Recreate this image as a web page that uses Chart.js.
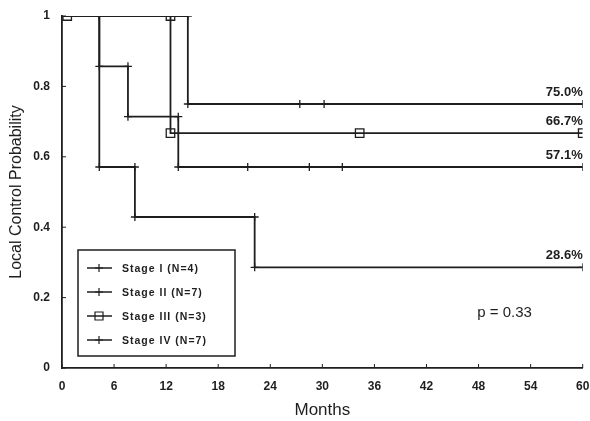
<!DOCTYPE html>
<html>
<head>
<meta charset="utf-8">
<script src="https://cdn.jsdelivr.net/npm/chart.js@4.4.1/dist/chart.umd.min.js"></script>
<style>
  html, body { margin: 0; padding: 0; background: #fff; }
  #box { width: 590px; height: 421px; }
</style>
</head>
<body>
<div id="box"><canvas id="grafico"></canvas></div>
<script>
// Kaplan-Meier curves, corners of each step given explicitly
const stage1X = [0, 14.5, 14.5, 27.4, 30.2, 60];
const stage1Y = [1, 1, 0.75, 0.75, 0.75, 0.75];
const stage2X = [0, 4.3, 4.3, 7.6, 7.6, 13.4, 13.4, 21.4, 28.5, 32.3, 60];
const stage2Y = [1, 1, 0.857, 0.857, 0.714, 0.714, 0.571, 0.571, 0.571, 0.571, 0.571];
const stage3X = [0, 0.6, 12.5, 12.5, 34.3, 60];
const stage3Y = [1, 1, 1, 0.667, 0.667, 0.667];
const stage4X = [0, 4.3, 4.3, 8.4, 8.4, 22.2, 22.2, 60];
const stage4Y = [1, 1, 0.571, 0.571, 0.429, 0.429, 0.286, 0.286];

const nombres = ["Stage I (N=4)", "Stage II (N=7)", "Stage III (N=3)", "Stage IV (N=7)"];
const marcadores = ["cross", "cross", "rect", "cross"];
const etiquetasFinales = ["75.0%", "66.7%", "57.1%", "28.6%"];
const valoresFinales = [0.75, 0.667, 0.571, 0.286];
const xTicks = [0, 6, 12, 18, 24, 30, 36, 42, 48, 54, 60];
const yTicks = [0, 0.2, 0.4, 0.6, 0.8, 1];
const textoP = "p = 0.33";

const tinta = "#1e1e1e";
const fuente = "'Liberation Sans', Arial, sans-serif";

function armarSerie(xs, ys, i) {
    return {
        label: nombres[i],
        data: xs.map((x, k) => ({ x: x, y: ys[k] })),
        borderColor: tinta,
        backgroundColor: "rgba(0,0,0,0)",
        borderWidth: 1.8,
        pointStyle: marcadores[i],
        pointRadius: ctx => ctx.dataIndex === 0 ? 0 : (marcadores[i] === "rect" ? 6 : 4),
        pointBorderColor: tinta,
        pointBorderWidth: 1.3,
        tension: 0
    };
}

// dibuja el marcador a mano (leyenda)
function marca(ctx, tipo, x, y) {
    ctx.beginPath();
    if (tipo === "rect") {
        ctx.rect(x - 4, y - 4, 8, 8);
    } else {
        ctx.moveTo(x - 4, y); ctx.lineTo(x + 4, y);
        ctx.moveTo(x, y - 4); ctx.lineTo(x, y + 4);
    }
    ctx.stroke();
}

const extras = {
    id: "extras",
    afterDraw(chart) {
        const ctx = chart.ctx;
        const area = chart.chartArea;
        const sx = chart.scales.x;
        const sy = chart.scales.y;
        ctx.save();
        ctx.strokeStyle = tinta;
        ctx.fillStyle = tinta;

        // ticks hacia adentro
        ctx.lineWidth = 1;
        xTicks.forEach(v => {
            const px = sx.getPixelForValue(v);
            ctx.beginPath(); ctx.moveTo(px, area.bottom); ctx.lineTo(px, area.bottom - 4); ctx.stroke();
        });
        yTicks.forEach(v => {
            const py = sy.getPixelForValue(v);
            ctx.beginPath(); ctx.moveTo(area.left, py); ctx.lineTo(area.left + 4, py); ctx.stroke();
        });

        // porcentajes finales
        ctx.font = "bold 13px " + fuente;
        ctx.textAlign = "right";
        ctx.textBaseline = "middle";
        etiquetasFinales.forEach((t, i) => {
            ctx.fillText(t, sx.getPixelForValue(60), sy.getPixelForValue(valoresFinales[i]) - 12);
        });

        // valor p
        ctx.font = "15px " + fuente;
        ctx.textAlign = "center";
        ctx.fillText(textoP, sx.getPixelForValue(51), sy.getPixelForValue(0.156));

        // leyenda
        const lx = area.left + 16, ly = area.bottom - 118;
        ctx.lineWidth = 1.5;
        ctx.strokeRect(lx, ly, 157, 106);
        ctx.font = "bold 10.5px " + fuente;
        ctx.letterSpacing = "1px";
        ctx.textAlign = "left";
        nombres.forEach((n, i) => {
            const y = ly + 18 + i * 24;
            ctx.lineWidth = 1.5;
            ctx.beginPath(); ctx.moveTo(lx + 9, y); ctx.lineTo(lx + 34, y); ctx.stroke();
            ctx.lineWidth = 1.2;
            marca(ctx, marcadores[i], lx + 21, y);
            ctx.fillText(n, lx + 44, y + 1);
        });
        ctx.restore();
    }
};

const ctx = document.getElementById("grafico").getContext("2d");
new Chart(ctx, {
    type: "line",
    data: {
        datasets: [
            armarSerie(stage1X, stage1Y, 0),
            armarSerie(stage2X, stage2Y, 1),
            armarSerie(stage3X, stage3Y, 2),
            armarSerie(stage4X, stage4Y, 3)
        ]
    },
    options: {
        responsive: true,
        maintainAspectRatio: false,
        animation: false,
        layout: { padding: { top: 16, right: 6, left: 0, bottom: 0 } },
        plugins: { legend: { display: false }, tooltip: { enabled: false } },
        scales: {
            x: {
                type: "linear",
                min: 0, max: 60,
                afterBuildTicks: s => { s.ticks = xTicks.map(v => ({ value: v })); },
                afterFit: s => { s.height = 53; s.paddingRight = 0; s.paddingLeft = 0; },
                border: { color: tinta, width: 1.8 },
                grid: { display: false },
                ticks: { color: tinta, padding: 3, maxRotation: 0, font: { family: fuente, size: 12, weight: "bold" } },
                title: { display: true, text: "Months", color: tinta, padding: { top: 0, bottom: 0 }, font: { family: fuente, size: 17 } }
            },
            y: {
                min: 0, max: 1,
                afterBuildTicks: s => { s.ticks = yTicks.map(v => ({ value: v })); },
                afterFit: s => { s.width = 62; s.paddingTop = 0; s.paddingBottom = 0; },
                border: { color: tinta, width: 1.8 },
                grid: { display: false },
                ticks: {
                    color: tinta, padding: 4,
                    font: { family: fuente, size: 12, weight: "bold" },
                    callback: v => (v === 0 || v === 1) ? String(v) : v.toFixed(1)
                },
                title: { display: true, text: "Local Control Probability", color: tinta, padding: { top: 7, bottom: 0 }, font: { family: fuente, size: 16 } }
            }
        }
    },
    plugins: [extras]
});
</script>
</body>
</html>
